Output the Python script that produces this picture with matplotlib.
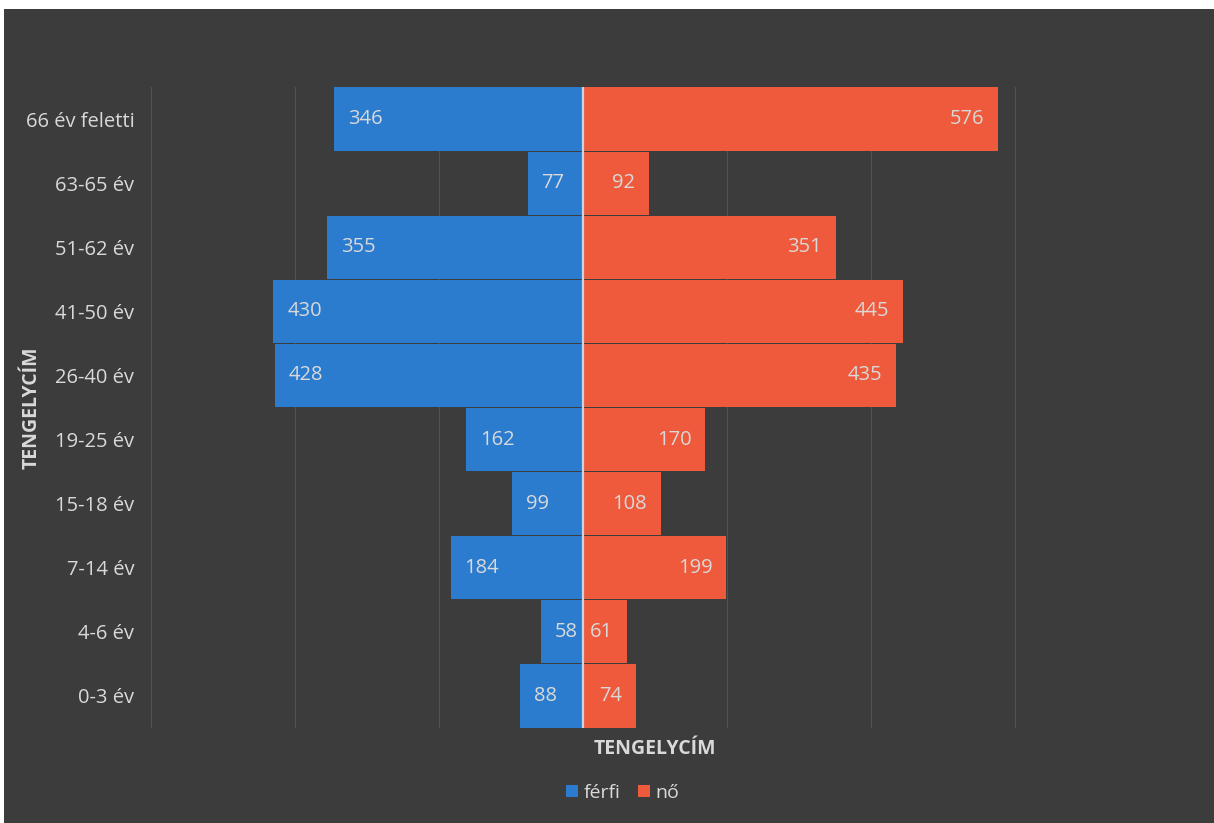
import matplotlib
matplotlib.use("Agg")
import matplotlib.pyplot as plt
from matplotlib.patches import Patch, Rectangle

# korcsoportok alulról felfelé
korcsoportok = ["0-3 év", "4-6 év", "7-14 év", "15-18 év", "19-25 év",
                "26-40 év", "41-50 év", "51-62 év", "63-65 év", "66 év feletti"]
ferfi = [88, 58, 184, 99, 162, 428, 430, 355, 77, 346]
no = [74, 61, 199, 108, 170, 435, 445, 351, 92, 576]

x_racs = [-600, -400, -200, 200, 400, 600, 800]

kek = "#2b7ccf"
narancs = "#ee5a3b"
hatter = "#3c3c3c"
szoveg = "#d9d9d9"

plt.rcParams["font.family"] = ["Open Sans", "DejaVu Sans"]

fig = plt.figure(figsize=(12.14, 8.23), dpi=100)
fig.patch.set_facecolor(hatter)

# fehér szkennelési szegély fent és bal oldalt
fig.patches.append(Rectangle((0, 1 - 9 / 823), 1, 9 / 823, transform=fig.transFigure,
                             facecolor="white", edgecolor="none", zorder=0))
fig.patches.append(Rectangle((0, 0), 4 / 1214, 1, transform=fig.transFigure,
                             facecolor="white", edgecolor="none", zorder=0))

ax = fig.add_axes([151 / 1214, 1 - 728 / 823, (1159 - 151) / 1214, 641 / 823])
ax.set_facecolor(hatter)

y = list(range(len(korcsoportok)))
ax.barh(y, [-v for v in ferfi], height=0.985, color=kek, zorder=2)
ax.barh(y, no, height=0.985, color=narancs, zorder=2)

for x in x_racs:
    ax.axvline(x, color="#535353", linewidth=0.7, zorder=1)
ax.axvline(0, color="#c9d3e6", linewidth=1.6, zorder=3)

# címkék a sávok végén belül
for i, (f, n) in enumerate(zip(ferfi, no)):
    ax.annotate(str(f), xy=(-f, i), xytext=(10, 0), textcoords="offset points",
                ha="left", va="center", fontsize=14.5, color=szoveg, zorder=4)
    ax.annotate(str(n), xy=(n, i), xytext=(-10, 0), textcoords="offset points",
                ha="right", va="center", fontsize=14.5, color=szoveg, zorder=4)

ax.set_xlim(-600, 800)
ax.set_ylim(-0.5, len(korcsoportok) - 0.5)
ax.set_yticks(y)
ax.set_yticklabels(korcsoportok, fontsize=14.5, color=szoveg)
ax.set_xticks([])
ax.tick_params(axis="y", length=0, pad=12)
for s in ax.spines.values():
    s.set_visible(False)

ax.set_xlabel("TENGELYCÍM", fontsize=14, fontweight="bold", color=szoveg, labelpad=8)
ax.set_ylabel("TENGELYCÍM", fontsize=14, fontweight="bold", color=szoveg)
ax.yaxis.set_label_coords((42 - 151) / 1008, 0.5)

kezelok = [Patch(facecolor=kek, label="férfi"), Patch(facecolor=narancs, label="nő")]
fig.legend(handles=kezelok, loc="center", bbox_to_anchor=(0.513, 1 - 793 / 823), ncol=2,
           frameon=False, fontsize=14, labelcolor=szoveg, handlelength=0.6,
           handleheight=0.6, handletextpad=0.3, columnspacing=0.9)

fig.savefig("out.png", dpi=100, facecolor=fig.get_facecolor())
